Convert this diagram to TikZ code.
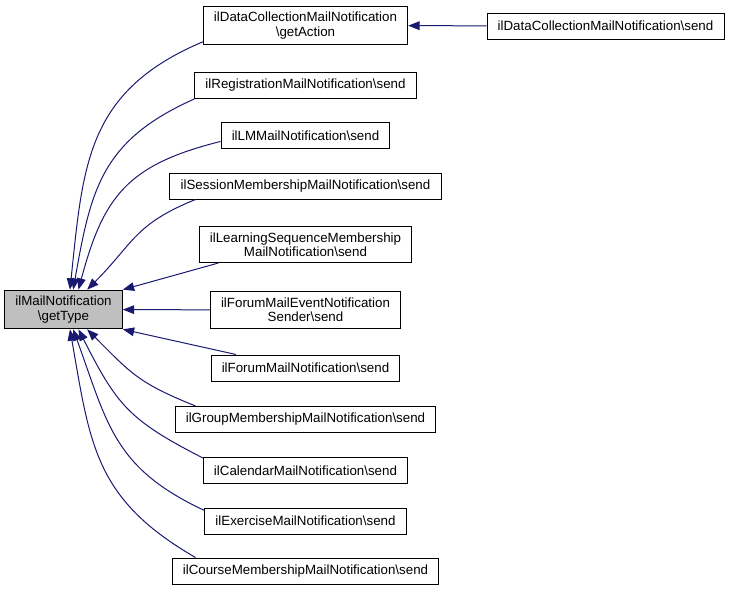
\documentclass[tikz,border=0pt]{standalone}
\usepackage{fontspec}
\setmainfont{Liberation Sans}
\usetikzlibrary{arrows.meta}
\definecolor{midnight}{HTML}{191970}
\tikzset{
 fn/.style={draw=black, line width=.75pt, fill=white, align=center, inner xsep=8pt, inner ysep=4.5pt, minimum height=19.5pt, font=\fontsize{10}{10.7}\selectfont},
 fncur/.style={fn, fill=black!25},
 call/.style={midnight, line width=.75pt, ->, >={Triangle[length=8.5pt,width=6.5pt]}}
}

\begin{document}
\begin{tikzpicture}[x=.75pt, y=.75pt]
\useasboundingbox (0,0) rectangle (729,-590);
\node[fncur] (type) at (63.5,-309.5) {ilMailNotification\\\textbackslash getType};
\node[fn] (action) at (305.5,-25.5) {ilDataCollectionMailNotification\\\textbackslash getAction};
\node[fn] (dcsend) at (605.5,-26) {ilDataCollectionMailNotification\textbackslash send};
\foreach \y/\n/\lbl in {
 -85.5/reg/{ilRegistrationMailNotification\textbackslash send},
 -135.5/lm/{ilLMMailNotification\textbackslash send},
 -186/sess/{ilSessionMembershipMailNotification\textbackslash send},
 -244.5/lseq/{ilLearningSequenceMembership\\MailNotification\textbackslash send},
 -310/fevent/{ilForumMailEventNotification\\Sender\textbackslash send},
 -368/forum/{ilForumMailNotification\textbackslash send},
 -419.5/group/{ilGroupMembershipMailNotification\textbackslash send},
 -470.5/cal/{ilCalendarMailNotification\textbackslash send},
 -521/exc/{ilExerciseMailNotification\textbackslash send},
 -571/crs/{ilCourseMembershipMailNotification\textbackslash send}}
 \node[fn] (\n) at (305.5,\y) {\lbl};
% calls into getType
\draw[call] (dcsend) -- (action);
\draw[call] (action.189) to[out=203,in=84,looseness=1.15] (type.72);
\draw[call] (reg.south west) to[out=204,in=80,looseness=1.15] (type.64);
\draw[call] (lm.184) to[out=194,in=75,looseness=1.2] (type.53);
\draw[call] (sess.187) to[out=202,in=45,looseness=1.2] (type.40);
\draw[call] (lseq.192) -- (type.north east);
\draw[call] (fevent) -- (type);
\draw[call] (forum.169) -- (type.south east);
\draw[call] (group.173) to[out=158,in=-45,looseness=1.2] (type.-40);
\draw[call] (cal.173) to[out=153,in=-63,looseness=1.2] (type.-53);
\draw[call] (exc.174) to[out=155,in=-70,looseness=1.15] (type.-64);
\draw[call] (crs.173) to[out=150,in=-80,looseness=1.15] (type.-72);
\end{tikzpicture}
\end{document}
